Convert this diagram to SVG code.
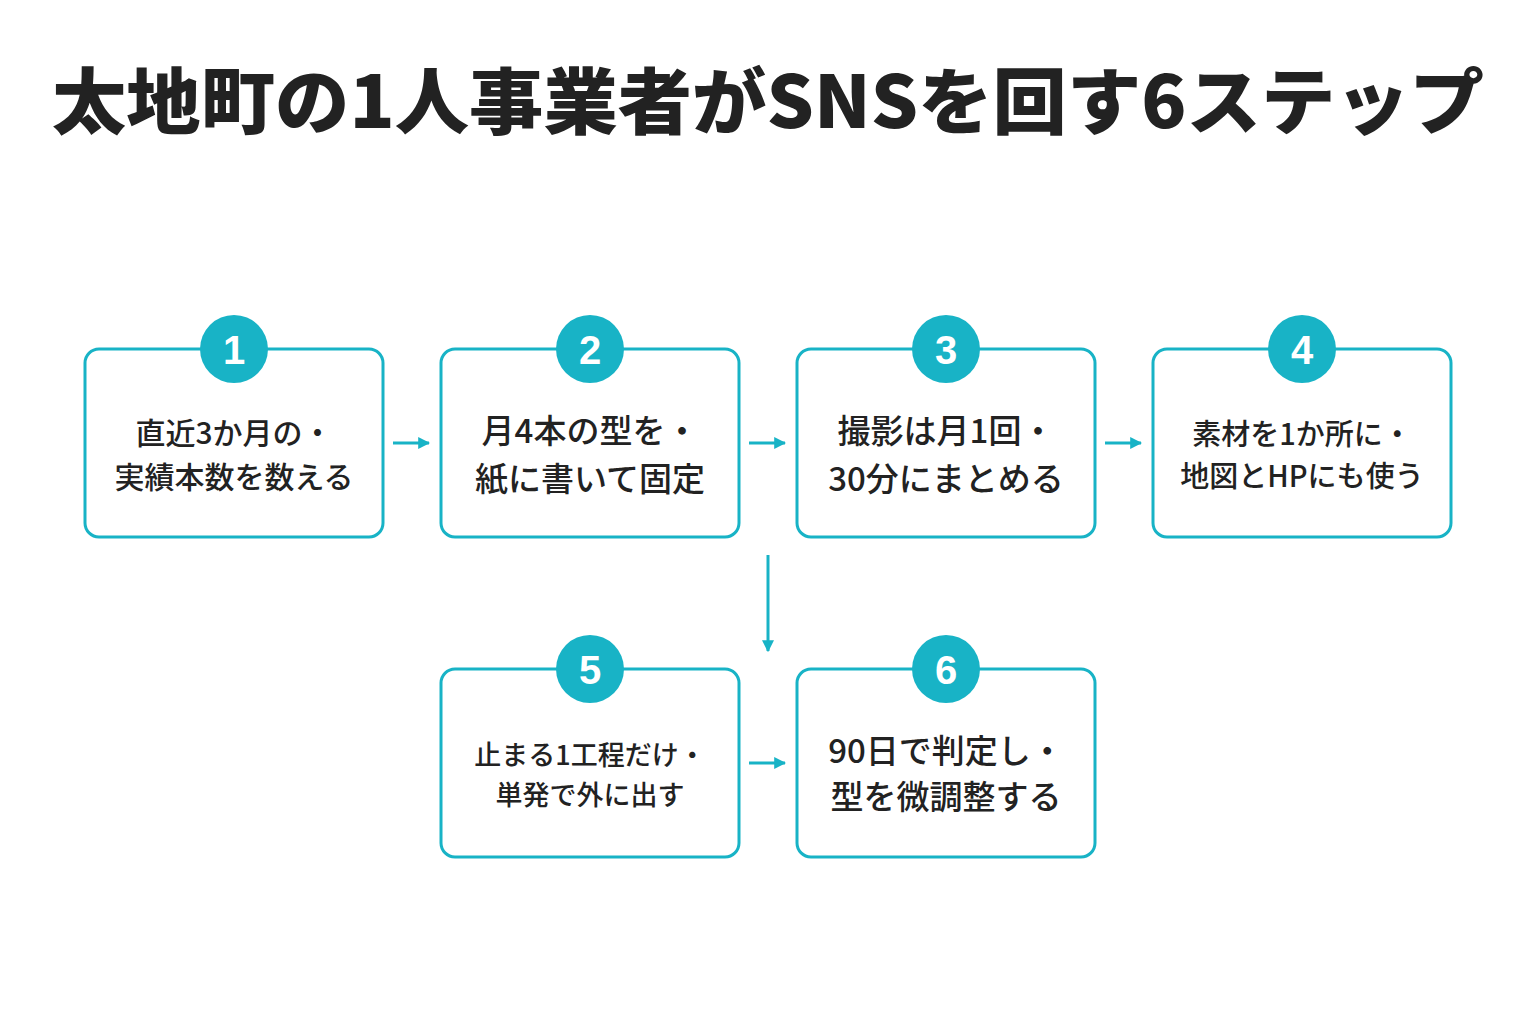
<svg xmlns="http://www.w3.org/2000/svg" width="1536" height="1024" viewBox="0 0 1536 1024">
<defs>
<style>
.box{fill:#fff;stroke:#18b3c6;stroke-width:3}
.c{fill:#18b3c6}
.n{font-family:"Liberation Sans","Noto Sans CJK JP",sans-serif;font-weight:bold;font-size:40px;fill:#fff;text-anchor:middle}
.t{font-family:"Noto Sans CJK JP",sans-serif;font-weight:500;fill:#222;text-anchor:middle}
.ln{stroke:#18b3c6;stroke-width:3;fill:none}
</style>
<marker id="ah" viewBox="0 0 10 10" refX="9" refY="5" markerWidth="4" markerHeight="4" orient="auto"><path d="M0,0L10,5L0,10z" fill="#18b3c6"/></marker>
</defs>
<rect width="1536" height="1024" fill="#fff"/>
<text x="768" y="128" font-family="Noto Sans CJK JP,sans-serif" font-weight="900" font-size="72" fill="#222" text-anchor="middle" textLength="1432" lengthAdjust="spacingAndGlyphs">太地町の1人事業者がSNSを回す6ステップ</text>
<g id="connectors">
<line class="ln" x1="393" y1="443" x2="429" y2="443" marker-end="url(#ah)"/>
<line class="ln" x1="749" y1="443" x2="785" y2="443" marker-end="url(#ah)"/>
<line class="ln" x1="1105" y1="443" x2="1141" y2="443" marker-end="url(#ah)"/>
<line class="ln" x1="768" y1="555" x2="768" y2="651" marker-end="url(#ah)"/>
<line class="ln" x1="749" y1="763" x2="785" y2="763" marker-end="url(#ah)"/>
</g>
<g id="n1"><rect class="box" x="85" y="349" width="298" height="188" rx="14"/><circle class="c" cx="234" cy="349" r="34"/><text class="n" x="234" y="364">1</text>
<text class="t" font-size="30" x="234" y="444">直近3か月の・</text><text class="t" font-size="30" x="234" y="488">実績本数を数える</text></g>
<g id="n2"><rect class="box" x="441" y="349" width="298" height="188" rx="14"/><circle class="c" cx="590" cy="349" r="34"/><text class="n" x="590" y="364">2</text>
<text class="t" font-size="33" x="590" y="443">月4本の型を・</text><text class="t" font-size="33" x="590" y="491">紙に書いて固定</text></g>
<g id="n3"><rect class="box" x="797" y="349" width="298" height="188" rx="14"/><circle class="c" cx="946" cy="349" r="34"/><text class="n" x="946" y="364">3</text>
<text class="t" font-size="33" x="946" y="443">撮影は月1回・</text><text class="t" font-size="33" x="946" y="491">30分にまとめる</text></g>
<g id="n4"><rect class="box" x="1153" y="349" width="298" height="188" rx="14"/><circle class="c" cx="1302" cy="349" r="34"/><text class="n" x="1302" y="364">4</text>
<text class="t" font-size="29" x="1302" y="445">素材を1か所に・</text><text class="t" font-size="29" x="1302" y="487">地図とHPにも使う</text></g>
<g id="n5"><rect class="box" x="441" y="669" width="298" height="188" rx="14"/><circle class="c" cx="590" cy="669" r="34"/><text class="n" x="590" y="684">5</text>
<text class="t" font-size="27" x="590" y="765">止まる1工程だけ・</text><text class="t" font-size="27" x="590" y="805">単発で外に出す</text></g>
<g id="n6"><rect class="box" x="797" y="669" width="298" height="188" rx="14"/><circle class="c" cx="946" cy="669" r="34"/><text class="n" x="946" y="684">6</text>
<text class="t" font-size="33" x="946" y="763">90日で判定し・</text><text class="t" font-size="33" x="946" y="809">型を微調整する</text></g>
</svg>
